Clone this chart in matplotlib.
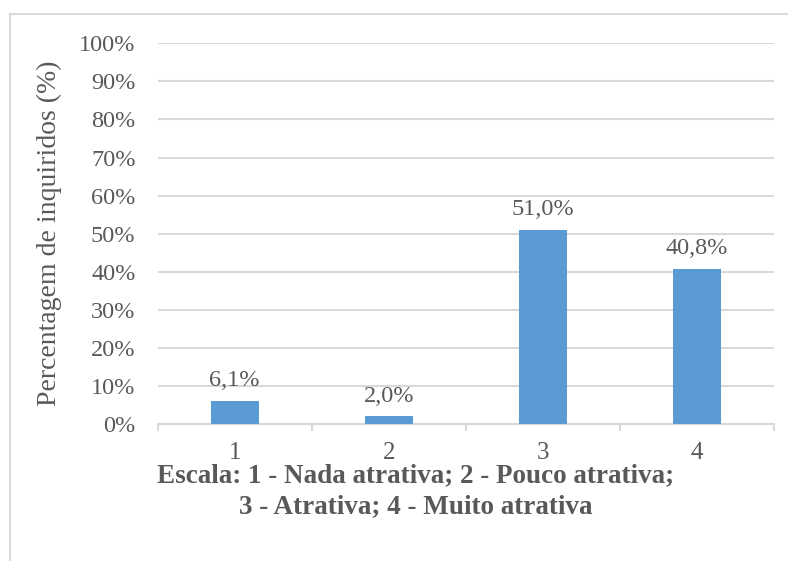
import matplotlib
matplotlib.use("Agg")
import matplotlib.pyplot as plt
from matplotlib.patches import Rectangle
from matplotlib.ticker import FuncFormatter

categories = ["1", "2", "3", "4"]
values = [6.1, 2.0, 51.0, 40.8]
value_labels = ["6,1%", "2,0%", "51,0%", "40,8%"]
y_ticks = [0, 10, 20, 30, 40, 50, 60, 70, 80, 90, 100]
y_label = "Percentagem de inquiridos (%)"
x_title = "Escala: 1 - Nada atrativa; 2 - Pouco atrativa;\n3 - Atrativa; 4 - Muito atrativa"

W, H = 788, 561
plt.rcParams['font.family'] = ['Liberation Serif', 'DejaVu Serif']
text_color = "#595959"
grid_color = "#D9D9D9"
bar_color = "#5B9BD5"

fig = plt.figure(figsize=(W / 100, H / 100), dpi=100)
fig.patch.set_facecolor("white")

# chart border (cropped on right and bottom)
fig.patches.append(Rectangle((10 / W, -0.1), 1.2, 1 - 14 / H + 0.1,
                             transform=fig.transFigure, fill=False,
                             edgecolor=grid_color, linewidth=1.5))

ax = fig.add_axes([157.7 / W, 1 - 424 / H, 616 / W, (424 - 43.3) / H])
x = list(range(1, len(categories) + 1))
ax.bar(x, values, width=0.31, color=bar_color, zorder=3)

for xi, v, lab in zip(x, values, value_labels):
    ax.annotate(lab, (xi, v), xytext=(0, 7), textcoords="offset points",
                ha="center", va="bottom", fontsize=17.5, color=text_color)

ax.set_xlim(0.5, len(categories) + 0.5)
ax.set_ylim(0, 100)
ax.set_yticks(y_ticks)
ax.yaxis.set_major_formatter(FuncFormatter(lambda v, p: f"{int(v)}%"))
ax.grid(axis="y", color=grid_color, linewidth=1.5, zorder=0)
ax.set_axisbelow(True)

ax.set_xticks(x)
ax.set_xticklabels(categories)
ax.set_xticks([i + 0.5 for i in range(len(categories) + 1)], minor=True)
ax.tick_params(axis="x", which="major", length=0, pad=13, labelsize=18, labelcolor=text_color)
ax.tick_params(axis="x", which="minor", length=5, width=1.5, color=grid_color)
ax.tick_params(axis="y", length=0, pad=16, labelsize=17.5, labelcolor=text_color)

for s in ["top", "right", "left"]:
    ax.spines[s].set_visible(False)
ax.spines["bottom"].set_color(grid_color)
ax.spines["bottom"].set_linewidth(1.5)

ax.set_ylabel(y_label, fontsize=20, color=text_color)
ax.yaxis.set_label_coords((62 - 157.7) / 616, 0.5)

fig.text(416 / W, 1 - 491 / H, x_title, ha="center", va="center",
         fontsize=19.5, fontweight="bold", color=text_color, linespacing=1.3)

fig.savefig("out.png", dpi=100, facecolor="white")
